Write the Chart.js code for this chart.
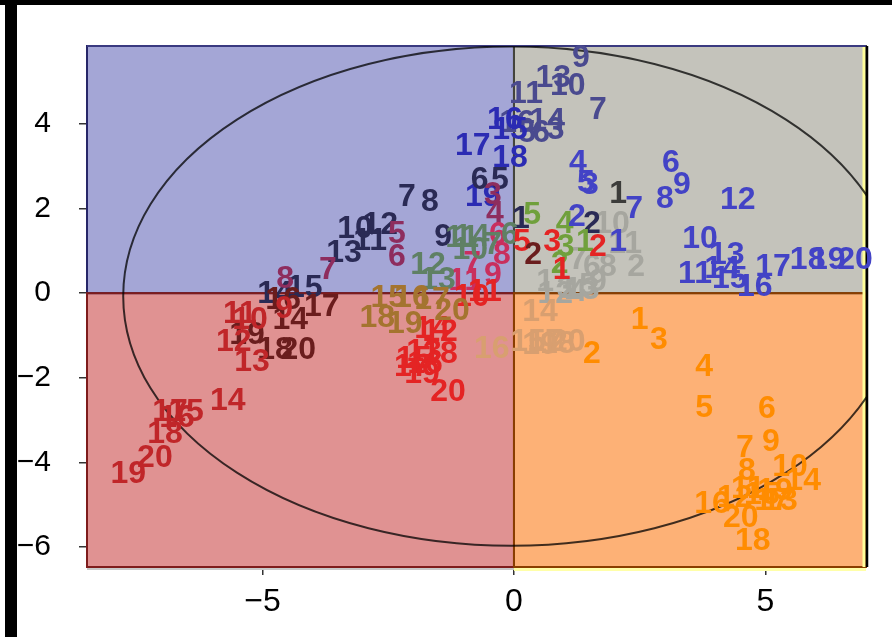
<!DOCTYPE html>
<html><head><meta charset="utf-8">
<script src="https://cdn.jsdelivr.net/npm/chart.js@4.4.1/dist/chart.umd.min.js"></script>
<style>
html,body{margin:0;padding:0;background:#fff;overflow:hidden}
#wrap{position:relative;width:892px;height:637px}
canvas{position:absolute;left:0;top:0}
#barL{position:absolute;left:5px;top:0;width:12px;height:637px;background:#000}
#barT{position:absolute;left:0;top:0;width:892px;height:5px;background:#000}
</style></head><body>
<div id="wrap"><canvas id="c" width="892" height="637"></canvas><div id="barL"></div><div id="barT"></div></div>
<script>
// ---- axes ----
const xMin = -8.49, xMax = 7.0, yMin = -6.47, yMax = 5.84;
const xTickValues = [-5, 0, 5];
const yTickValues = [-6, -4, -2, 0, 2, 4];
// ---- ellipse ----
const ellCx = -0.05, ellCy = -0.07, ellRx = 7.72, ellRy = 5.9;

// ---- series (label numbers, x, y) ----
const orangeLabels = [1,2,3,4,5,6,7,8,9,10,11,12,13,14,15,16,17,18,19,20];
const orangeX = [2.50,1.55,2.88,3.78,3.78,5.03,4.59,4.63,5.11,5.49,4.65,4.39,5.29,5.75,4.93,3.94,5.13,4.75,5.19,4.51];
const orangeY = [-0.64,-1.44,-1.11,-1.76,-2.71,-2.75,-3.67,-4.21,-3.51,-4.12,-4.64,-4.85,-4.92,-4.45,-4.78,-4.99,-4.92,-5.86,-4.68,-5.32];

const blueLabels = [1,2,3,4,5,6,7,8,9,10,11,12,13,14,15,16,17,18,19,20];
const blueX = [2.07,1.25,1.51,1.27,1.43,3.12,2.39,3.00,3.34,3.70,3.60,4.45,4.23,4.14,4.29,4.79,5.15,5.84,6.24,6.78];
const blueY = [1.20,1.79,2.54,3.08,2.59,3.08,1.98,2.21,2.56,1.27,0.45,2.19,0.89,0.56,0.33,0.14,0.61,0.78,0.78,0.78];

const slateLabels = [3,5,6,7,9,10,11,13,14,16];
const slateX = [0.83,0.26,0.54,1.67,1.33,1.07,0.24,0.78,0.66,0.06];
const slateY = [3.84,3.79,3.79,4.33,5.55,4.89,4.71,5.08,4.07,4.02];

const deepLabels = [15,16,17,18,19];
const deepX = [-0.08,-0.18,-0.82,-0.08,-0.62];
const deepY = [3.84,4.09,3.48,3.18,2.26];

const charcoalLabels = [1];
const charcoalX = [2.07];
const charcoalY = [2.33];

const navyLabels = [1,2,5,6,7,8,9,10,11,12,13,14,15];
const navyX = [0.14,1.55,-0.28,-0.68,-2.13,-1.67,-1.41,-3.16,-2.86,-2.66,-3.38,-4.75,-4.16];
const navyY = [1.76,1.62,2.68,2.68,2.26,2.14,1.32,1.51,1.24,1.60,0.94,-0.02,0.12];

const maroonLabels = [3,4,5,6,7,8];
const maroonX = [-0.42,-0.38,-2.33,-2.33,-3.70,-4.55];
const maroonY = [2.31,1.86,1.39,0.85,0.54,0.33];

const crimsonLabels = [6,7,8,9,11];
const crimsonX = [-0.32,-0.83,-0.24,-0.42,-0.97];
const crimsonY = [1.36,0.68,0.89,0.42,0.28];

const redLabels = [1,2,3,5,10,11,12,13,14,15,16,17,18,19,20];
const redX = [0.95,1.67,0.76,0.16,-0.84,-0.58,-1.47,-1.79,-1.63,-1.99,-1.77,-2.03,-1.47,-1.83,-1.31];
const redY = [0.54,1.08,1.20,1.20,-0.09,0.02,-0.92,-1.39,-0.85,-1.55,-1.67,-1.74,-1.44,-1.91,-2.33];

const greenLabels = [6,7,10,11,12,13,14];
const greenX = [-0.08,-0.42,-0.87,-1.03,-1.71,-1.51,-0.84];
const greenY = [1.36,1.13,1.01,1.29,0.66,0.31,1.32];

const oliveLabels = [1,2,3,4,5];
const oliveX = [1.41,0.91,1.03,1.01,0.36];
const oliveY = [1.20,0.68,1.08,1.62,1.84];

const grayLabels = [1,2,3,4,5,6,7,8,9,10,11,12,13];
const grayX = [0.62,2.43,1.03,1.27,1.47,1.55,1.27,1.87,1.67,1.95,2.21,0.82,1.35];
const grayY = [0.26,0.61,0.09,0.02,0.16,0.61,0.78,0.61,0.26,1.62,1.15,-0.02,0.07];

const tanLabels = [14,15,16,17,18,19,20];
const tanX = [0.52,0.28,-0.44,0.62,0.87,0.52,1.07];
const tanY = [-0.45,-1.15,-1.32,-1.15,-1.20,-1.22,-1.15];

const ochreLabels = [15,16,17,18,19,20];
const ochreX = [-2.50,-2.03,-1.63,-2.72,-2.17,-1.23];
const ochreY = [-0.12,-0.12,-0.16,-0.59,-0.73,-0.42];

const fireLabels = [9,10,11,12,13,14,15,16,17,18,19,20];
const fireX = [-4.57,-5.25,-5.45,-5.57,-5.21,-5.69,-6.52,-6.70,-6.84,-6.94,-7.67,-7.14];
const fireY = [-0.38,-0.64,-0.50,-1.15,-1.62,-2.56,-2.80,-2.96,-2.80,-3.34,-4.28,-3.91];

const darkLabels = [2,14,16,17,18,19,20];
const darkX = [0.38,-4.45,-4.59,-3.82,-4.75,-5.31,-4.29];
const darkY = [0.89,-0.64,-0.16,-0.33,-1.35,-0.99,-1.35];

const seriesList = [
  {lab: grayLabels, x: grayX, y: grayY, color: '#a6a69f'},
  {lab: tanLabels, x: tanX, y: tanY, color: '#d89f70'},
  {lab: slateLabels, x: slateX, y: slateY, color: '#4a4a8f'},
  {lab: deepLabels, x: deepX, y: deepY, color: '#2b2bb3'},
  {lab: navyLabels, x: navyX, y: navyY, color: '#2a2a55'},
  {lab: charcoalLabels, x: charcoalX, y: charcoalY, color: '#3c3c3a'},
  {lab: maroonLabels, x: maroonX, y: maroonY, color: '#8e2d5e'},
  {lab: crimsonLabels, x: crimsonX, y: crimsonY, color: '#c92f5e'},
  {lab: greenLabels, x: greenX, y: greenY, color: '#5f8064'},
  {lab: oliveLabels, x: oliveX, y: oliveY, color: '#70a03c'},
  {lab: redLabels, x: redX, y: redY, color: '#e42424'},
  {lab: ochreLabels, x: ochreX, y: ochreY, color: '#a4742f'},
  {lab: darkLabels, x: darkX, y: darkY, color: '#6a1d1d'},
  {lab: fireLabels, x: fireX, y: fireY, color: '#c02629'},
  {lab: blueLabels, x: blueX, y: blueY, color: '#4343c6'},
  {lab: orangeLabels, x: orangeX, y: orangeY, color: '#ff8c00'}
];

const datasets = seriesList.map(s => ({
  data: s.x.map((v, i) => ({x: v, y: s.y[i]})),
  labelsText: s.lab,
  textColor: s.color,
  pointRadius: 0,
  showLine: false
}));

const FONT = '"Liberation Sans", Arial, Helvetica, sans-serif';
const fmt = v => (v < 0 ? '\u2212' + Math.abs(v) : String(v));

const backgroundPlugin = {
  id: 'quadrants',
  beforeDatasetsDraw(chart) {
    const {ctx, chartArea: a, scales: {x, y}} = chart;
    const x0 = x.getPixelForValue(0), y0 = y.getPixelForValue(0);
    const quads = [
      {x1: a.left, y1: a.top, x2: x0, y2: y0, fill: '#a4a6d6', stroke: '#262668'},
      {x1: x0, y1: a.top, x2: a.right, y2: y0, fill: '#c4c3bb', stroke: '#45453c'},
      {x1: a.left, y1: y0, x2: x0, y2: a.bottom, fill: '#e09292', stroke: '#7e1c1c'},
      {x1: x0, y1: y0, x2: a.right, y2: a.bottom, fill: '#fdb176', stroke: '#8a3e00'}
    ];
    ctx.save();
    quads.forEach(q => { ctx.fillStyle = q.fill; ctx.fillRect(q.x1, q.y1, q.x2 - q.x1, q.y2 - q.y1); });
    ctx.lineWidth = 2;
    quads.forEach(q => { ctx.strokeStyle = q.stroke; ctx.strokeRect(q.x1, q.y1, q.x2 - q.x1, q.y2 - q.y1); });
    ctx.strokeStyle = '#3a3a80';
    ctx.beginPath(); ctx.moveTo(a.left, a.top); ctx.lineTo(a.right, a.top); ctx.stroke();
    ctx.strokeStyle = '#ffff99'; ctx.lineWidth = 3;
    ctx.beginPath(); ctx.moveTo(a.right - 2, a.top + 1); ctx.lineTo(a.right - 2, a.bottom); ctx.stroke();
    ctx.strokeStyle = '#000'; ctx.lineWidth = 2.5;
    ctx.beginPath(); ctx.moveTo(a.right + 1, a.top); ctx.lineTo(a.right + 1, a.bottom); ctx.stroke();
    ctx.strokeStyle = '#ffffa8'; ctx.lineWidth = 3;
    ctx.beginPath(); ctx.moveTo(x0, a.bottom + 2.5); ctx.lineTo(a.right, a.bottom + 2.5); ctx.stroke();
    ctx.strokeStyle = '#c8c8c8'; ctx.lineWidth = 2;
    ctx.beginPath(); ctx.moveTo(a.left, a.bottom + 2); ctx.lineTo(x0, a.bottom + 2); ctx.stroke();
    ctx.beginPath(); ctx.rect(a.left, a.top, a.right - a.left, a.bottom - a.top); ctx.clip();
    const cx = x.getPixelForValue(ellCx), cy = y.getPixelForValue(ellCy);
    const rx = Math.abs(x.getPixelForValue(ellCx + ellRx) - cx);
    const ry = Math.abs(y.getPixelForValue(ellCy + ellRy) - cy);
    ctx.strokeStyle = 'rgba(0,0,0,0.75)'; ctx.lineWidth = 2;
    ctx.beginPath(); ctx.ellipse(cx, cy, rx, ry, 0, 0, Math.PI * 2); ctx.stroke();
    ctx.restore();
  }
};

const labelPlugin = {
  id: 'numLabels',
  afterDatasetsDraw(chart) {
    const ctx = chart.ctx;
    ctx.save();
    ctx.font = 'bold 32px ' + FONT;
    ctx.textAlign = 'center';
    ctx.textBaseline = 'middle';
    chart.data.datasets.forEach((ds, i) => {
      const meta = chart.getDatasetMeta(i);
      ctx.fillStyle = ds.textColor;
      meta.data.forEach((pt, j) => ctx.fillText(String(ds.labelsText[j]), pt.x, pt.y));
    });
    ctx.restore();
  }
};

new Chart(document.getElementById('c'), {
  type: 'scatter',
  data: {datasets},
  options: {
    responsive: false,
    animation: false,
    layout: {padding: {left: 0, right: 26, top: 43, bottom: 0}},
    plugins: {legend: {display: false}, tooltip: {enabled: false}},
    scales: {
      x: {
        type: 'linear', min: xMin, max: xMax,
        afterBuildTicks: s => { s.ticks = xTickValues.map(v => ({value: v})); },
        afterFit: s => { s.height = 70; },
        grid: {display: true, drawOnChartArea: false, drawTicks: true, tickLength: 8, color: '#333', lineWidth: 1.5},
        border: {display: false},
        ticks: {color: '#000', font: {size: 32, family: FONT}, padding: 8, maxRotation: 0, callback: fmt}
      },
      y: {
        type: 'linear', min: yMin, max: yMax,
        afterBuildTicks: s => { s.ticks = yTickValues.map(v => ({value: v})); },
        afterFit: s => { s.width = 87; },
        grid: {display: true, drawOnChartArea: false, drawTicks: true, tickLength: 8, color: '#333', lineWidth: 1.5},
        border: {display: false},
        ticks: {color: '#000', font: {size: 30, family: FONT}, padding: 28, callback: fmt}
      }
    }
  },
  plugins: [backgroundPlugin, labelPlugin]
});
</script>
</body></html>
